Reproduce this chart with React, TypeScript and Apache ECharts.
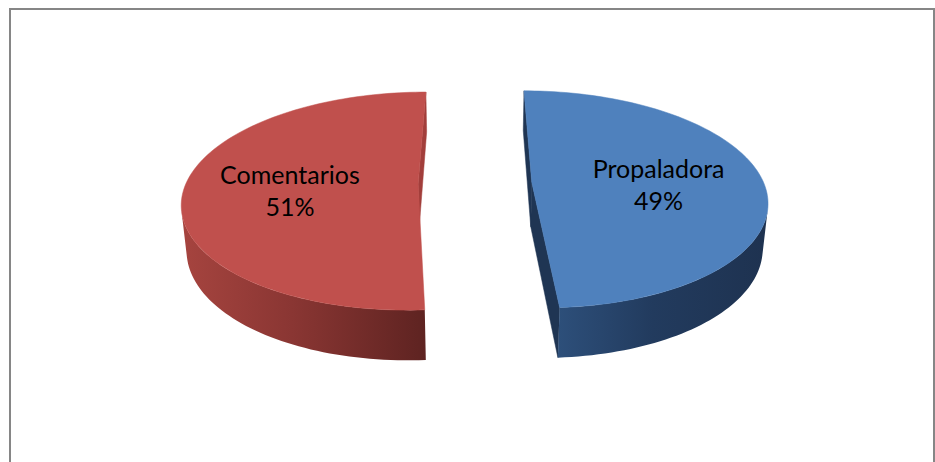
import React, { useEffect, useRef } from "react";
import * as echarts from "echarts";

const categories: string[] = ["Propaladora", "Comentarios"];
const values: number[] = [49, 51];
const topColors: string[] = ["#4F81BD", "#C0504D"];
const cutColors: string[] = ["#1f3553", "#a23e3b"];
const wallStops: string[][] = [
  ["#2d4f7a", "#223b5e", "#1e3250"],
  ["#a6443f", "#8a3633", "#5e2321"],
];

// layout of the perspective 3D pie
const CX = 475;
const CY = 183;
const K = 232;
const TILT = 27.2; // degrees
const DIST = 5.62;
const HEIGHT = 0.22;
const EXPLODE = 0.245;
const LABEL_R = 0.55;
const LABEL_DY = 4;
const FONT_SIZE = 25;
const LINE_GAP = 32;

const rad = (d: number) => (d * Math.PI) / 180;
const SP = Math.sin(rad(TILT));
const CP = Math.cos(rad(TILT));

// world: X right, Y up (top face at 0), Z toward viewer
function project(X: number, Y: number, Z: number): number[] {
  const yc = Y * CP - Z * SP;
  const zc = Y * SP + Z * CP;
  const s = DIST / (DIST - zc);
  return [CX + K * s * X, CY - K * s * yc];
}

export default function App() {
  const ref = useRef<HTMLDivElement>(null);
  useEffect(() => {
    if (!ref.current) return;
    const chart = echarts.init(ref.current, undefined, { renderer: "svg" });
    const total = values.reduce((a, b) => a + b, 0);
    const camZ = DIST * CP;

    const renderItem = (params: any) => {
      const i = params.dataIndex;
      let before = 0;
      for (let k = 0; k < i; k++) before += values[k];
      const start = (before / total) * 360;
      const end = ((before + values[i]) / total) * 360;
      const mid = (start + end) / 2;
      const ox = EXPLODE * Math.sin(rad(mid));
      const oz = -EXPLODE * Math.cos(rad(mid));
      const pt = (th: number, r: number, bottom: boolean) =>
        project(ox + r * Math.sin(rad(th)), bottom ? -HEIGHT : 0, oz - r * Math.cos(rad(th)));
      const arc = (a: number, b: number, bottom: boolean) => {
        const pts: number[][] = [];
        const n = Math.max(2, Math.ceil(Math.abs(b - a) / 1.5));
        for (let j = 0; j <= n; j++) pts.push(pt(a + ((b - a) * j) / n, 1, bottom));
        return pts;
      };
      const facing = (px: number, pz: number, nx: number, nz: number) =>
        (0 - px) * nx + (camZ - pz) * nz > 0;
      const children: any[] = [];
      // cut faces (only those turned toward the camera)
      const faces = [
        { th: start, sign: -1 },
        { th: end, sign: 1 },
      ];
      faces.forEach(({ th, sign }) => {
        const nx = sign * Math.cos(rad(th));
        const nz = sign * Math.sin(rad(th));
        if (!facing(ox, oz, nx, nz)) return;
        children.push({
          type: "polygon",
          shape: { points: [pt(th, 0, false), pt(th, 1, false), pt(th, 1, true), pt(th, 0, true)] },
          style: { fill: cutColors[i], stroke: cutColors[i], lineWidth: 0.5 },
        });
      });
      // outer wall: visible angular range
      let a = -1;
      let b = -1;
      const steps = 720;
      for (let j = 0; j <= steps; j++) {
        const th = start + ((end - start) * j) / steps;
        const nx = Math.sin(rad(th));
        const nz = -Math.cos(rad(th));
        if (facing(ox + nx, oz + nz, nx, nz)) {
          if (a < 0) a = th;
          b = th;
        }
      }
      if (a >= 0 && b > a) {
        const pts = arc(a, b, false).concat(arc(b, a, true));
        const st = wallStops[i];
        children.push({
          type: "polygon",
          shape: { points: pts },
          style: {
            fill: new echarts.graphic.LinearGradient(0, 0, 1, 0, [
              { offset: 0, color: st[0] },
              { offset: 0.45, color: st[1] },
              { offset: 1, color: st[2] },
            ]),
          },
        });
      }
      // top face
      const topPts = [pt(start, 0, false)].concat(arc(start, end, false));
      children.push({
        type: "polygon",
        shape: { points: topPts },
        style: { fill: topColors[i], stroke: topColors[i], lineWidth: 0.5 },
      });
      // label
      const lp = project(
        ox + LABEL_R * Math.sin(rad(mid)),
        0,
        oz - LABEL_R * Math.cos(rad(mid))
      );
      const pct = Math.round((values[i] / total) * 100) + "%";
      const font = { fontSize: FONT_SIZE, fontFamily: "Lato, 'Noto Sans', sans-serif", fill: "#000" };
      children.push({
        type: "text",
        x: lp[0],
        y: lp[1] + LABEL_DY - LINE_GAP / 2,
        style: { text: categories[i], align: "center", verticalAlign: "middle", textAlign: "center", textVerticalAlign: "middle", ...font },
      });
      children.push({
        type: "text",
        x: lp[0],
        y: lp[1] + LABEL_DY + LINE_GAP / 2,
        style: { text: pct, align: "center", verticalAlign: "middle", textAlign: "center", textVerticalAlign: "middle", ...font },
      });
      return { type: "group", children };
    };

    chart.setOption({
      animation: false,
      backgroundColor: "#ffffff",
      graphic: [
        {
          type: "rect",
          silent: true,
          shape: { x: 10, y: 9, width: 924, height: 470 },
          style: { fill: "none", stroke: "#868686", lineWidth: 2 },
        },
      ],
      series: [
        {
          type: "custom",
          coordinateSystem: "none",
          silent: true,
          renderItem,
          data: values.map((v, k) => ({ name: categories[k], value: v })),
        },
      ],
    });
    return () => chart.dispose();
  }, []);
  return (
    <div
      ref={ref}
      style={{ position: "absolute", left: 0, top: 0, width: 935, height: 462, background: "#fff" }}
    />
  );
}
